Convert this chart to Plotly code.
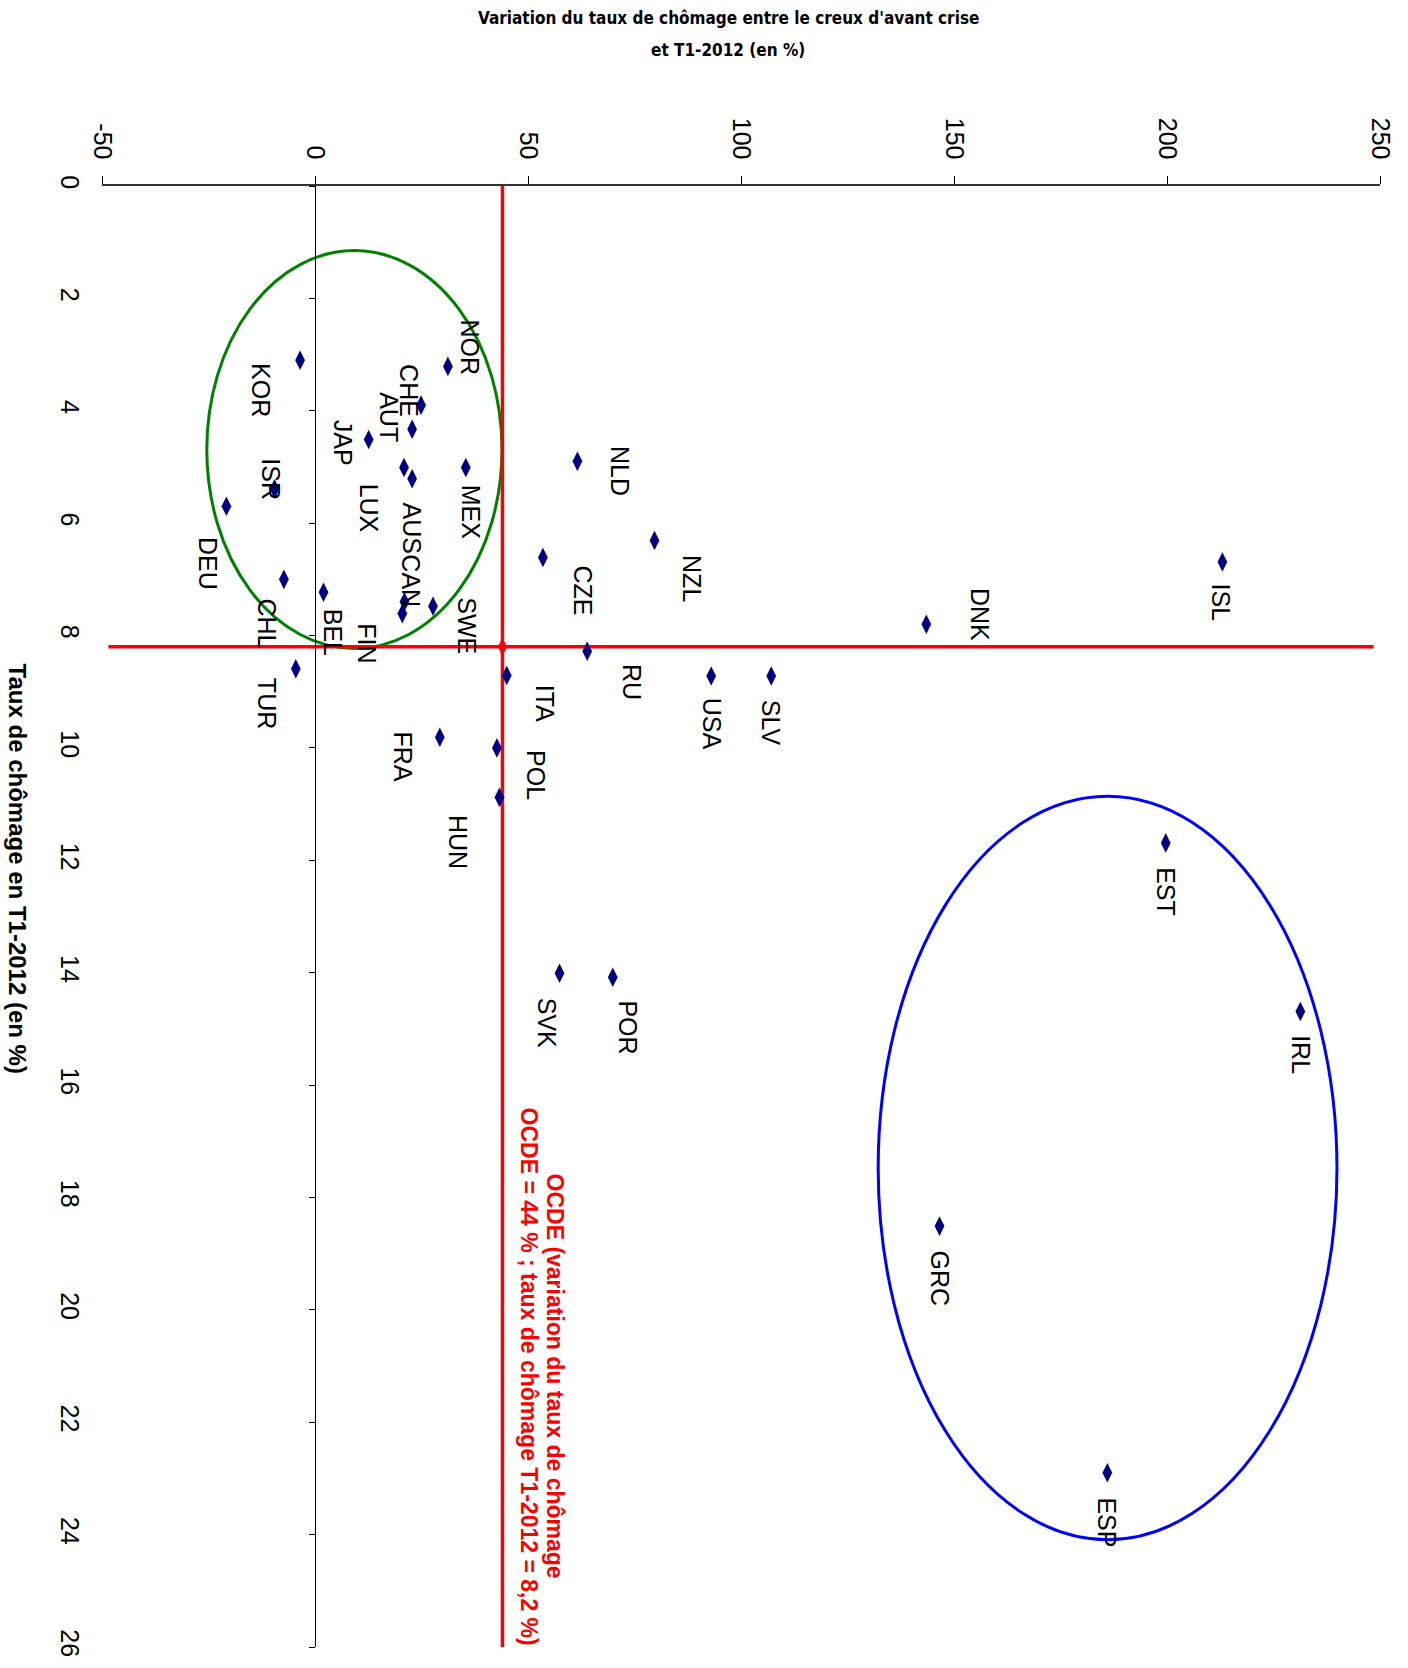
import plotly.graph_objects as go

# ---------------- data ----------------
pays = ["NOR", "KOR", "CHE", "AUT", "JAP", "MEX", "AUS", "LUX", "ISR", "DEU",
        "CHL", "BEL", "CAN", "SWE", "FIN", "TUR", "FRA", "POL", "HUN", "ITA",
        "RU", "CZE", "NLD", "NZL", "DNK", "ISL", "USA", "SLV", "SVK", "POR",
        "EST", "IRL", "GRC", "ESP"]
variation = [31.2, -3.5, 24.9, 22.8, 12.6, 35.4, 20.9, 22.8, -9.5, -20.8,
             -7.3, 2.0, 21.0, 27.7, 20.5, -4.5, 29.3, 42.7, 43.3, 45.0,
             63.9, 53.5, 61.6, 79.7, 143.5, 213.0, 93.0, 107.1, 57.4, 69.9,
             199.7, 231.3, 146.6, 186.0]
taux = [3.21, 3.10, 3.90, 4.33, 4.51, 5.01, 5.01, 5.21, 5.39, 5.70,
        7.00, 7.23, 7.40, 7.48, 7.61, 8.59, 9.81, 10.00, 10.88, 8.71,
        8.28, 6.61, 4.90, 6.31, 7.80, 6.69, 8.72, 8.72, 14.01, 14.08,
        11.69, 14.69, 18.51, 22.90]
ocde_variation = 44
ocde_taux = 8.2
x_ticks = [-50, 0, 50, 100, 150, 200, 250]
y_ticks = [0, 2, 4, 6, 8, 10, 12, 14, 16, 18, 20, 22, 24, 26]

# label placement offsets (pixels, right / down) relative to each point
label_dx = [22, -39, -12, -23, -26, 6, 8, -43, -3, -19,
            -17, 9, 7, 34, -35, -29, -37, 39, -42, 38,
            45, 40, 42, 38, 53, -1, 1, 0, -13, 15,
            0, 0, 0, 0]
label_dy = [-19, 30, -15, -12, 3, 45, 60, 29, -10, 57,
            44, 40, -21, 19, 30, 35, 19, 27, 45, 28,
            31, 33, 10, 38, -10, 41, 48, 47, 49, 50,
            49, 43, 52, 50]

# ---------------- layout geometry ----------------
W, H = 1408, 1668
PLOT_L, PLOT_R, PLOT_T, PLOT_B = 102.3, 1380.3, 185.6, 1646.8   # page pixels
ML, MT = PLOT_L, PLOT_T
MR, MB = W - PLOT_R, H - PLOT_B
PW, PH = PLOT_R - PLOT_L, PLOT_B - PLOT_T

def px_x(px):
    return (px - PLOT_L) / PW

def px_y(py):
    return 1 - (py - PLOT_T) / PH

FONT = "Arial, Liberation Sans, sans-serif"
NARROW = "Arial Narrow, Liberation Sans Narrow, DejaVu Sans Condensed, sans-serif"

fig = go.Figure()

fig.add_trace(go.Scatter(
    x=variation, y=taux, mode="markers",
    marker=dict(symbol="diamond-tall", size=14, color="#000080"),
    hovertext=pays, showlegend=False))

fig.add_trace(go.Scatter(
    x=[ocde_variation], y=[ocde_taux], mode="markers",
    marker=dict(symbol="diamond-tall", size=13, color="#FF0000"),
    showlegend=False))

# invisible trace to carry the secondary y axis drawn at x = 0
fig.add_trace(go.Scatter(x=variation, y=taux, mode="none", yaxis="y2",
                         showlegend=False, hoverinfo="skip"))

shapes = [
    dict(type="circle", xref="x", yref="y", x0=-25.4, x1=43.9, y0=1.15, y1=8.23,
         line=dict(color="#008000", width=3), layer="below"),
    dict(type="circle", xref="x", yref="y", x0=132.2, x1=239.9, y0=10.86, y1=24.09,
         line=dict(color="#0000FF", width=3), layer="below"),
    dict(type="line", xref="x", yref="y", x0=ocde_variation, x1=ocde_variation,
         y0=0, y1=26.1, line=dict(color="#FF0000", width=3.5), layer="below"),
    dict(type="line", xref="x", yref="y", x0=-48.5, x1=248.5,
         y0=ocde_taux, y1=ocde_taux, line=dict(color="#FF0000", width=3.5),
         layer="below"),
]

annotations = []
for name, xv, yv, dx, dy in zip(pays, variation, taux, label_dx, label_dy):
    annotations.append(dict(
        x=xv, y=yv, xref="x", yref="y", text=name, showarrow=False,
        textangle=90, xshift=dx, yshift=-dy, xanchor="center", yanchor="middle",
        font=dict(family=FONT, size=25, color="black")))

ocde_line1 = "<b>OCDE (variation du taux de chômage</b>"
ocde_line2 = ("<b>OCDE = %d %% ; taux de chômage T1-2012 = %s %%)</b>"
              % (ocde_variation, str(ocde_taux).replace(".", ",")))
annotations.append(dict(
    x=px_x(555), y=px_y(1376), xref="paper", yref="paper", text=ocde_line1,
    showarrow=False, textangle=90, xanchor="center", yanchor="middle",
    font=dict(family=FONT, size=23, color="#FF0000")))
annotations.append(dict(
    x=px_x(529), y=px_y(1376), xref="paper", yref="paper", text=ocde_line2,
    showarrow=False, textangle=90, xanchor="center", yanchor="middle",
    font=dict(family=FONT, size=23, color="#FF0000")))

annotations.append(dict(
    x=px_x(18), y=px_y(868), xref="paper", yref="paper",
    text="<b>Taux de chômage en T1-2012 (en %)</b>", showarrow=False,
    textangle=90, xanchor="center", yanchor="middle",
    font=dict(family=FONT, size=24, color="black")))

annotations.append(dict(
    x=px_x(729), y=px_y(18), xref="paper", yref="paper",
    text="<b>Variation du taux de chômage entre le creux d'avant crise</b>",
    showarrow=False, xanchor="center", yanchor="middle",
    font=dict(family=NARROW, size=17, color="black")))
annotations.append(dict(
    x=px_x(728), y=px_y(50), xref="paper", yref="paper",
    text="<b>et T1-2012 (en %)</b>",
    showarrow=False, xanchor="center", yanchor="middle",
    font=dict(family=NARROW, size=17, color="black")))

fig.update_layout(
    width=W, height=H,
    margin=dict(l=ML, r=MR, t=MT, b=MB, pad=0),
    plot_bgcolor="white", paper_bgcolor="white",
    showlegend=False,
    shapes=shapes, annotations=annotations,
    xaxis=dict(range=[-50, 250], side="top", tickvals=x_ticks,
               ticktext=[str(v) for v in x_ticks], tickangle=90,
               ticks="outside", ticklen=8, tickcolor="black",
               showline=True, linecolor="#333333", linewidth=1.5,
               showgrid=False, zeroline=False, ticklabelstandoff=8,
               automargin=False,
               tickfont=dict(family=FONT, size=25, color="black")),
    yaxis=dict(range=[26, 0], tickvals=y_ticks,
               ticktext=[str(v) for v in y_ticks], tickangle=90,
               ticks="", showline=False, showgrid=False, zeroline=False,
               ticklabelstandoff=15, automargin=False,
               tickfont=dict(family=FONT, size=25, color="black")),
    yaxis2=dict(overlaying="y", matches="y", anchor="free",
                position=(0 - x_ticks[0]) / (x_ticks[-1] - x_ticks[0]),
                side="left", tickvals=y_ticks, showticklabels=False,
                ticks="outside", ticklen=6, tickcolor="black",
                showline=True, linecolor="black", linewidth=1,
                showgrid=False, zeroline=False, automargin=False),
)

fig.write_html("out.html",
               config={"displayModeBar": False},
               post_script="document.body.style.margin='0';"
                           "document.body.style.overflow='hidden';")
